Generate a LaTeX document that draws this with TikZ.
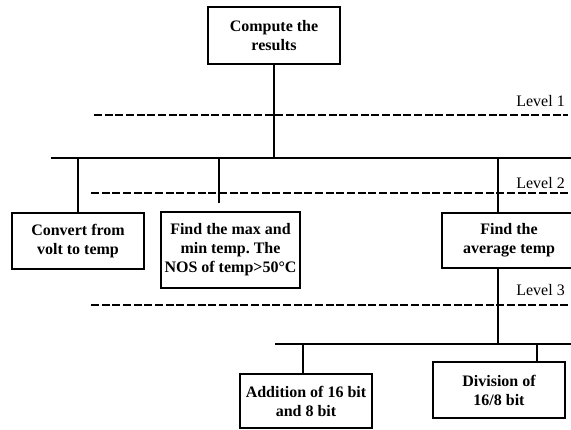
\documentclass[tikz,border=0pt]{standalone}
\usepackage{fontspec}
\setmainfont{Liberation Serif}
\usetikzlibrary{calc}
\frenchspacing

\begin{document}
\begin{tikzpicture}[x=0.75pt, y=-0.75pt,
		box/.style={draw, line width=1.9pt, align=center, inner sep=1pt,
			minimum width=99pt, minimum height=42pt,
			font=\fontsize{12}{14.3}\selectfont\bfseries},
		link/.style={line width=1.2pt},
		levelline/.style={line width=1.2pt, dash pattern=on 6pt off 2pt},
		lvltext/.style={anchor=east, inner sep=0pt, font=\fontsize{12}{14}\selectfont}]
			%%%%% START %%%%%
			\useasboundingbox (0, 0) rectangle (571, 429);
			
			% levels
			\draw[levelline] (94, 115) -- (568, 115);
			\draw[levelline] (91, 193) -- (568, 193);
			\draw[levelline] (91, 305) -- (568, 305);
			\node[lvltext] (lvlone) at (565, 101) {Level 1};
			\node[lvltext] (lvltwo) at (565, 183) {Level 2};
			\node[lvltext] (lvlthree) at (565, 290) {Level 3};
			
			% boxes
			\node[box, minimum height=42.75pt] (results) at (274, 35.5) {Compute the\\results};
			\node[box] (volt) at (78, 241) {Convert from\\volt to temp};
			\node[box, minimum width=104.25pt, minimum height=57pt] (maxmin) at (230.5, 250) {Find the max and\\min temp. The\\NOS of temp>50°C};
			\node[box, minimum width=100.5pt, minimum height=41.25pt] (avg) at (509, 240.5) {Find the\\average temp};
			\node[box, minimum height=40.5pt] (add) at (306, 401) {Addition of 16 bit\\and 8 bit};
			\node[box] (div) at (499, 390) {Division of\\16/8 bit};
			
			% bus ends and taps
			\coordinate (busAl) at (51, 158);
			\coordinate (busAr) at (571, 158);
			\coordinate (busBl) at (275, 344);
			\coordinate (busBr) at (571, 344);
			\coordinate (maxend) at (219, 203);
			\coordinate (avgtap) at (498, 0);
			\coordinate (addtap) at (303, 0);
			\coordinate (divtap) at (537, 0);
			
			\draw[link] (busAl) -- (busAr);
			\draw[link] (busBl) -- (busBr);
			
			\draw[link] (results.south) -- (results.south |- busAl);
			\draw[link] (volt.north) -- (volt.north |- busAl);
			\draw[link] (maxend) -- (maxend |- busAl);
			\draw[link] (avgtap |- busAl) -- (avgtap |- avg.north);
			\draw[link] (avgtap |- avg.south) -- (avgtap |- busBl);
			\draw[link] (addtap |- busBl) -- (addtap |- add.north);
			\draw[link] (divtap |- busBl) -- (divtap |- div.north);
			
			%%%%% END %%%%%
\end{tikzpicture}
\end{document}
